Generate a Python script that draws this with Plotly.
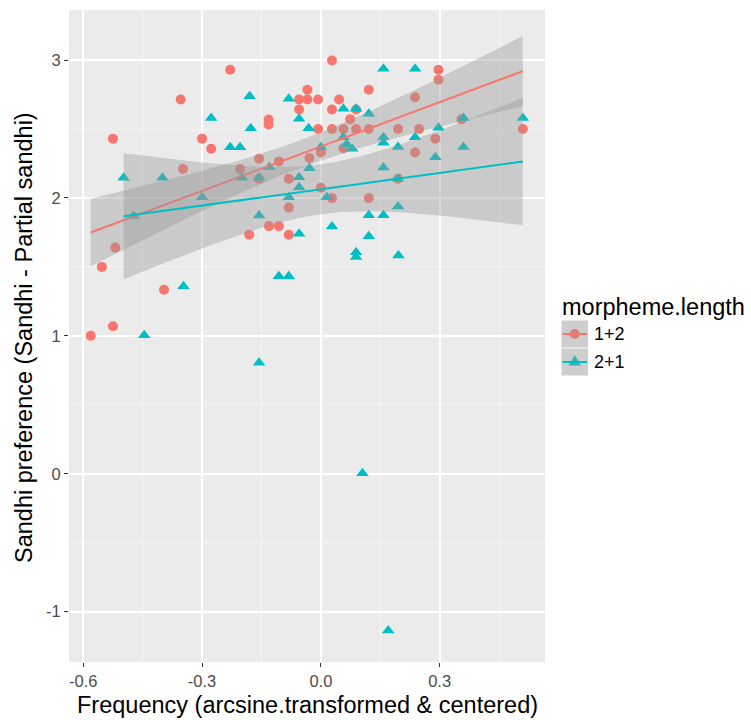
import math
import numpy as np
import plotly.graph_objects as go

# ---------------- data ----------------
red_x = [-0.581, -0.553, -0.525, -0.519, -0.525, -0.396, -0.354, -0.348, -0.300, -0.277,
         -0.229, -0.204, -0.181, -0.156, -0.156, -0.132, -0.132, -0.131, -0.106, -0.106,
         -0.081, -0.081, -0.081, -0.055, -0.055, -0.034, -0.034, -0.029, -0.007, -0.007,
         0.000, 0.000, 0.028, 0.028, 0.028, 0.028, 0.046, 0.057, 0.057, 0.074,
         0.089, 0.089, 0.121, 0.121, 0.121, 0.195, 0.195, 0.238, 0.238, 0.248,
         0.289, 0.297, 0.297, 0.355, 0.510]
red_y = [1.00, 1.50, 1.07, 1.64, 2.43, 1.334, 2.714, 2.21, 2.43, 2.357,
         2.93, 2.21, 1.733, 2.284, 2.14, 2.569, 2.533, 1.796, 2.265, 1.796,
         2.14, 1.93, 1.733, 2.714, 2.642, 2.785, 2.714, 2.29, 2.714, 2.50,
         2.33, 2.074, 2.997, 2.642, 2.50, 1.999, 2.714, 2.50, 2.361, 2.57,
         2.642, 2.50, 2.785, 2.50, 1.999, 2.50, 2.14, 2.73, 2.33, 2.50,
         2.43, 2.93, 2.857, 2.57, 2.50]

teal_x = [-0.498, -0.473, -0.446, -0.400, -0.347, -0.300, -0.277, -0.229, -0.204, -0.199,
          -0.180, -0.177, -0.156, -0.156, -0.156, -0.130, -0.106, -0.081, -0.081, -0.081,
          -0.055, -0.055, -0.055, -0.055, -0.031, -0.029, 0.000, 0.015, 0.028, 0.057,
          0.057, 0.065, 0.079, 0.089, 0.089, 0.089, 0.105, 0.121, 0.121, 0.121,
          0.158, 0.158, 0.158, 0.158, 0.158, 0.170, 0.195, 0.195, 0.195, 0.196,
          0.238, 0.238, 0.289, 0.297, 0.360, 0.360, 0.510]
teal_y = [2.146, 1.870, 1.005, 2.146, 1.360, 2.005, 2.579, 2.368, 2.368, 2.146,
          2.738, 2.506, 2.146, 1.873, 0.805, 2.223, 1.433, 2.720, 2.005, 1.433,
          2.574, 2.150, 2.078, 1.740, 2.505, 2.215, 2.370, 2.005, 1.793, 2.647,
          2.440, 2.390, 2.357, 2.647, 1.607, 1.571, 0.004, 2.610, 1.875, 1.723,
          2.937, 2.440, 2.400, 2.220, 1.875, -1.136, 2.370, 2.140, 1.938, 1.583,
          2.937, 2.440, 2.296, 2.510, 2.580, 2.370, 2.580]

groups = ["1+2", "2+1"]
x_ticks = [-0.6, -0.3, 0.0, 0.3]
x_ticklabels = ["-0.6", "-0.3", "0.0", "0.3"]
y_ticks = [-1, 0, 1, 2, 3]
y_ticklabels = ["-1", "0", "1", "2", "3"]

RED = "#F8766D"
TEAL = "#00BFC4"
RIBBON = "rgba(153,153,153,0.4)"
FONT = "Liberation Sans, Arial, Helvetica, sans-serif"


# ---------------- linear fit with 95% CI (like geom_smooth(method='lm')) ----------------
def t_ppf(p, df):
    c = math.gamma((df + 1) / 2) / (math.sqrt(df * math.pi) * math.gamma(df / 2))

    def cdf(t):
        g = np.linspace(0, t, 4001)
        f = c * (1 + g ** 2 / df) ** (-(df + 1) / 2)
        return 0.5 + np.trapezoid(f, g)

    lo, hi = 0.0, 10.0
    for _ in range(60):
        mid = (lo + hi) / 2
        if cdf(mid) < p:
            lo = mid
        else:
            hi = mid
    return (lo + hi) / 2


def lm_band(xs, ys, n_out=80):
    x = np.asarray(xs, float)
    y = np.asarray(ys, float)
    n = len(x)
    xb = x.mean()
    sxx = ((x - xb) ** 2).sum()
    b1 = ((x - xb) * (y - y.mean())).sum() / sxx
    b0 = y.mean() - b1 * xb
    resid = y - (b0 + b1 * x)
    s = math.sqrt((resid ** 2).sum() / (n - 2))
    tq = t_ppf(0.975, n - 2)
    xg = np.linspace(x.min(), x.max(), n_out)
    yh = b0 + b1 * xg
    se = s * np.sqrt(1 / n + (xg - xb) ** 2 / sxx)
    return xg, yh, yh - tq * se, yh + tq * se


fig = go.Figure()

# points first (ribbons drawn over them, as in ggplot)
fig.add_trace(go.Scatter(x=red_x, y=red_y, mode="markers", name=groups[0],
                         marker=dict(symbol="circle", size=10, color=RED, line=dict(width=0)),
                         showlegend=False))
fig.add_trace(go.Scatter(x=teal_x, y=teal_y, mode="markers", name=groups[1],
                         marker=dict(symbol="triangle-up", size=11, color=TEAL, line=dict(width=0)),
                         showlegend=False))

for xs, ys, col in [(red_x, red_y, RED), (teal_x, teal_y, TEAL)]:
    xg, yh, lo, hi = lm_band(xs, ys)
    fig.add_trace(go.Scatter(x=np.concatenate([xg, xg[::-1]]), y=np.concatenate([hi, lo[::-1]]),
                             mode="lines", fill="toself", fillcolor=RIBBON,
                             line=dict(width=0), hoverinfo="skip", showlegend=False))
    fig.add_trace(go.Scatter(x=xg, y=yh, mode="lines", line=dict(color=col, width=2),
                             showlegend=False))

# ---------------- layout ----------------
W, H = 751, 720
L, R, T, B = 69, 206, 10, 58
PW, PH = W - L - R, H - T - B


def px(X):
    return (X - L) / PW


def py(Y):
    return (H - B - Y) / PH


axis_common = dict(showgrid=True, gridcolor="white", gridwidth=1.6, zeroline=False,
                   ticks="outside", ticklen=4, tickwidth=1, tickcolor="#333333",
                   tickfont=dict(size=16.5, color="#4D4D4D", family=FONT), showline=False)

fig.update_layout(
    width=W, height=H,
    margin=dict(l=L, r=R, t=T, b=B, pad=0),
    paper_bgcolor="white",
    plot_bgcolor="#EBEBEB",
    font=dict(family=FONT, color="#4D4D4D"),
    xaxis=dict(range=[-0.636, 0.566], tickmode="array", tickvals=x_ticks, ticktext=x_ticklabels,
               minor=dict(dtick=0.15, tick0=-0.6, showgrid=True, gridcolor="#F4F4F4", gridwidth=1,
                          ticks=""),
               **axis_common),
    yaxis=dict(range=[-1.365, 3.363], tickmode="array", tickvals=y_ticks, ticktext=y_ticklabels,
               minor=dict(dtick=0.5, tick0=-1, showgrid=True, gridcolor="#F4F4F4", gridwidth=1,
                          ticks=""),
               **axis_common),
)

ann = []
ann.append(dict(text="Frequency (arcsine.transformed & centered)", xref="paper", yref="paper",
                x=0.5, y=py(705), xanchor="center", yanchor="middle", showarrow=False,
                font=dict(size=23.5, color="black", family=FONT)))
ann.append(dict(text="Sandhi preference (Sandhi - Partial sandhi)", xref="paper", yref="paper",
                x=px(24), y=py(338), xanchor="center", yanchor="middle", textangle=-90,
                showarrow=False, font=dict(size=23.5, color="black", family=FONT)))
# legend
ann.append(dict(text="morpheme.length", xref="paper", yref="paper", x=px(560), y=py(306.5),
                xanchor="left", yanchor="middle", showarrow=False,
                font=dict(size=23.5, color="black", family=FONT)))

shapes = []
key_rows = [(320.5, 347.5), (348.5, 375.5)]
kx0, kx1 = 561.5, 588
kxc = (kx0 + kx1) / 2
for (y0, y1), col, lab, sym in zip(key_rows, [RED, TEAL], groups, ["circle", "triangle"]):
    yc = (y0 + y1) / 2
    # key background (grey95)
    shapes.append(dict(type="rect", xref="paper", yref="paper", x0=px(kx0), x1=px(kx1),
                       y0=py(y1), y1=py(y0), fillcolor="#F2F2F2", line=dict(width=0), layer="above"))
    # point key
    if sym == "circle":
        shapes.append(dict(type="circle", xref="paper", yref="paper", xsizemode="pixel",
                           ysizemode="pixel", xanchor=px(kxc), yanchor=py(yc),
                           x0=-5, x1=5, y0=-5, y1=5, fillcolor=col, line=dict(width=0),
                           layer="above"))
    else:
        shapes.append(dict(type="path", xref="paper", yref="paper", xsizemode="pixel",
                           ysizemode="pixel", xanchor=px(kxc), yanchor=py(yc),
                           path="M-6.2,-3.6 L6.2,-3.6 L0,7.1 Z", fillcolor=col,
                           line=dict(width=0), layer="above"))
    # ribbon over it
    shapes.append(dict(type="rect", xref="paper", yref="paper", x0=px(kx0), x1=px(kx1),
                       y0=py(y1), y1=py(y0), fillcolor=RIBBON, line=dict(width=0), layer="above"))
    # line
    shapes.append(dict(type="line", xref="paper", yref="paper", x0=px(kx0 + 1), x1=px(kx1 - 1),
                       y0=py(yc), y1=py(yc), line=dict(color=col, width=2), layer="above"))
    ann.append(dict(text=lab, xref="paper", yref="paper", x=px(592), y=py(yc),
                    xanchor="left", yanchor="middle", showarrow=False,
                    font=dict(size=18, color="black", family=FONT)))

fig.update_layout(annotations=ann, shapes=shapes)

fig.write_html("out.html")
